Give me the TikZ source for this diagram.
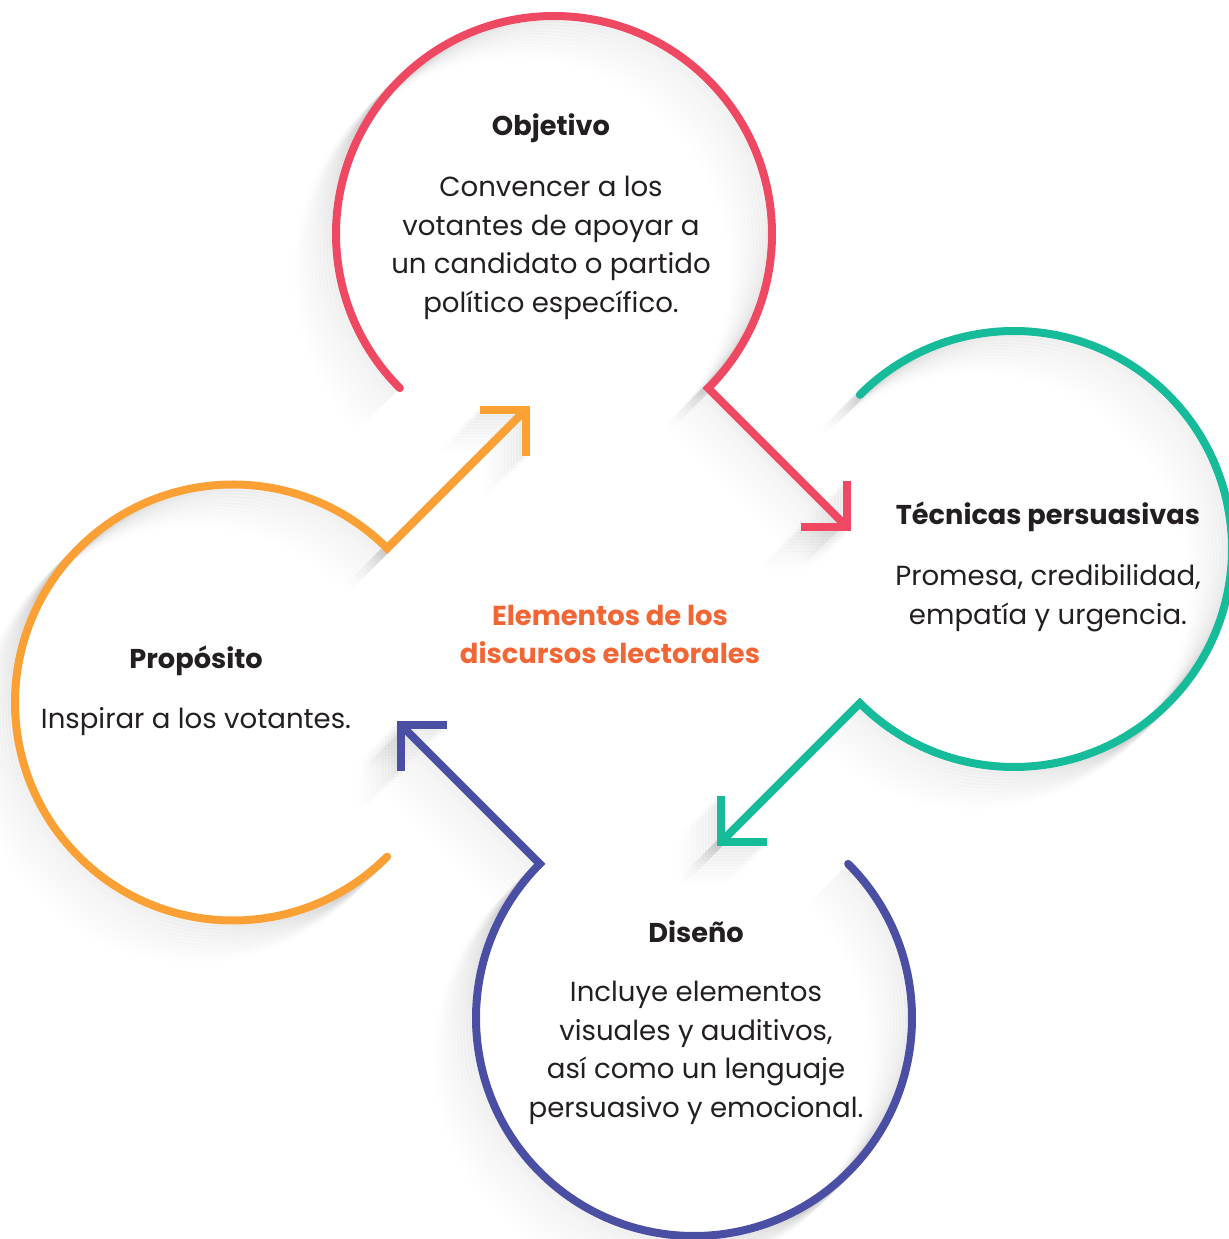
\documentclass[tikz,border=0pt]{standalone}
\usepackage{fontspec}
\setmainfont{Poppins}
\usetikzlibrary{arrows.meta}

\definecolor{objred}{RGB}{239,72,98}
\definecolor{tecteal}{RGB}{22,187,154}
\definecolor{disblue}{RGB}{74,79,163}
\definecolor{proorange}{RGB}{250,160,52}
\definecolor{titleorange}{RGB}{242,101,52}
\definecolor{textgray}{RGB}{35,31,32}

\tikzset{
  ring/.style={line width=4pt, line cap=round, -{Straight Barb[angle=90:23pt]}},
  ringshadow/.style={line width=4pt, black, -{Straight Barb[angle=90:23pt]}},
  head/.style={font=\bfseries\fontsize{13.6}{19.25}\selectfont, text=textgray, inner sep=0pt},
  body/.style={font=\fontsize{13.8}{19.3}\selectfont, text=textgray, align=center, inner sep=0pt},
  title/.style={font=\bfseries\fontsize{13.7}{19}\selectfont, text=titleorange, align=center, inner sep=0pt}
}

\begin{document}
\begin{tikzpicture}[x=0.5pt, y=0.5pt]
    \useasboundingbox (0,0) rectangle (1229,1239);
    \clip (0,0) rectangle (1229,1239);
    % Ombre leggere
    \foreach \n/\cx/\cy/\ang in {obj/554/1005/-45, tec/1014/690/-135, dis/694/221/135, pro/233/536.5/45}{
      \foreach \s in {3,6,...,39}{
        \pgfmathsetmacro\op{0.03*(1-\s/42)}
        \draw[ringshadow, opacity=\op, shift={(-\s,-\s)}] (\cx,\cy) ++(\ang+270:218)
          arc[start angle=\ang+270, end angle=\ang, radius=218] -- ++(\ang:202);
      }
    }
    % Cerchi e frecce
    \foreach \n/\cx/\cy/\ang/\col in {obj/554/1005/-45/objred, tec/1014/690/-135/tecteal,
                                      dis/694/221/135/disblue, pro/233/536.5/45/proorange}{
      \coordinate (\n-c) at (\cx,\cy);
      \path (\n-c) ++(\ang:218) coordinate (\n-out) ++(\ang:202) coordinate (\n-tip);
      \draw[ring, \col] (\n-c) ++(\ang+270:218)
        arc[start angle=\ang+270, end angle=\ang, radius=218] -- (\n-tip);
    }
    % Testi
    \node[head] (objHead) at (551,1111) {Objetivo};
    \node[body] (objBody) at (551,991) {Convencer a los\\votantes de apoyar a\\un candidato o partido\\político específico.};
    \node[head] (tecHead) at (1048,722) {Técnicas persuasivas};
    \node[body] (tecBody) at (1048,641) {Promesa, credibilidad,\\empatía y urgencia.};
    \node[head] (proHead) at (196,578) {Propósito};
    \node[body] (proBody) at (196,517) {Inspirar a los votantes.};
    \node[head] (disHead) at (696,307) {Diseño};
    \node[body] (disBody) at (696,186) {Incluye elementos\\visuales y auditivos,\\así como un lenguaje\\persuasivo y emocional.};
    \node[title] (title) at (610,605) {Elementos de los\\discursos electorales};
\end{tikzpicture}
\end{document}
